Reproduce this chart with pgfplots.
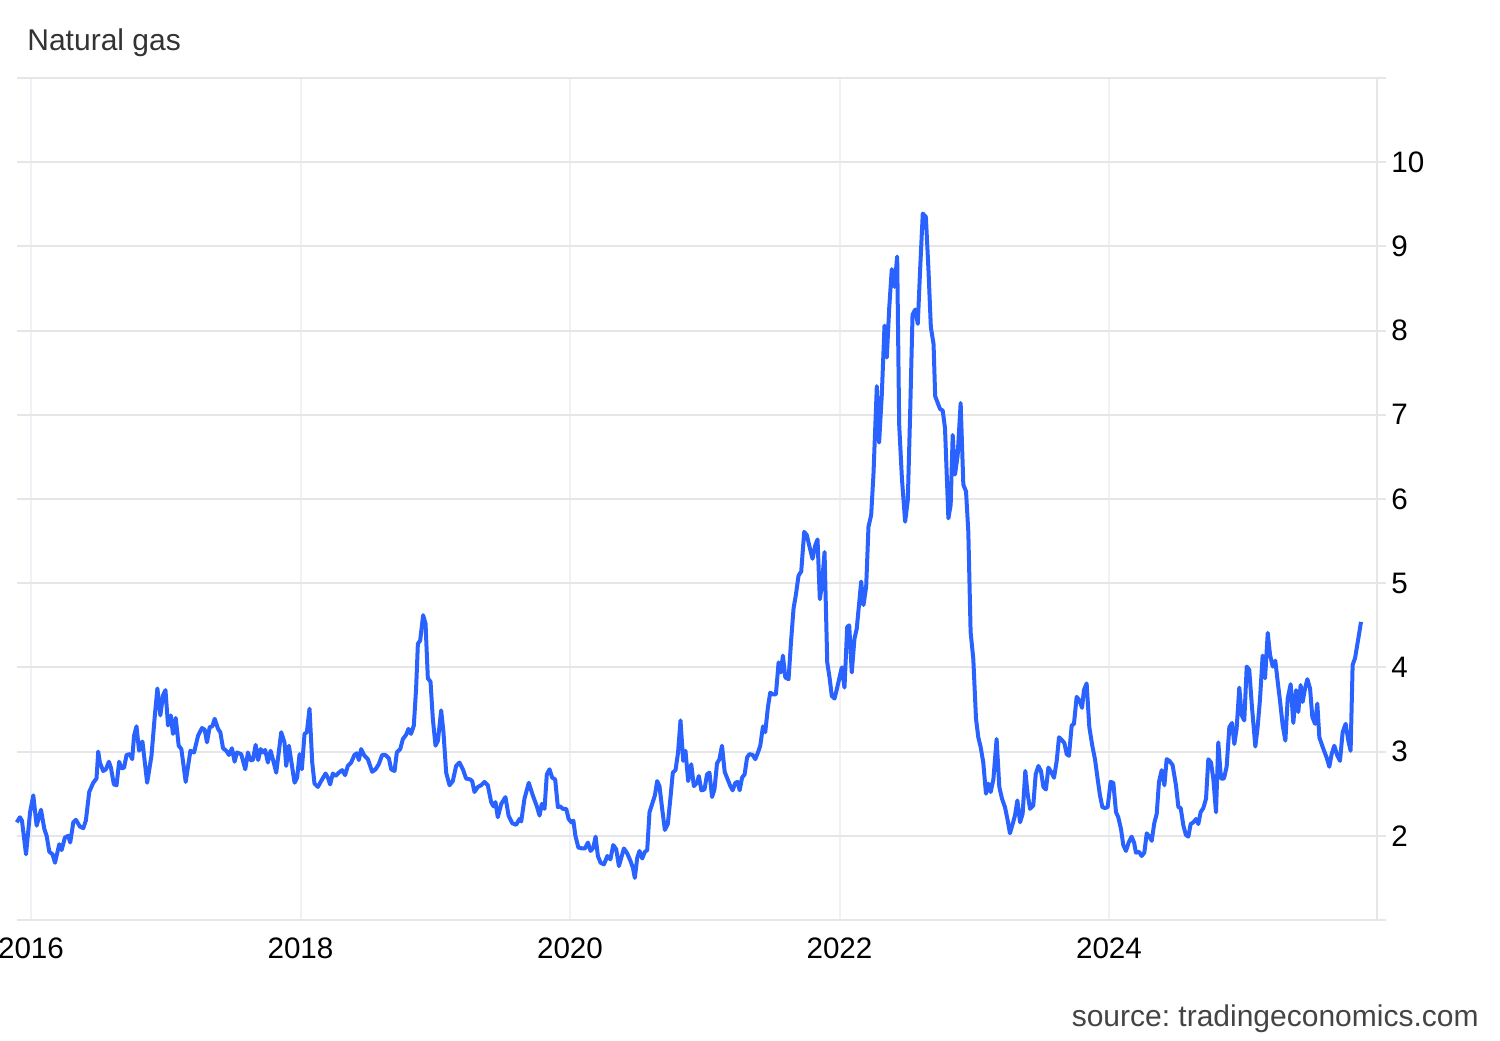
\documentclass[border=0pt]{standalone}
\usepackage{fontspec}
\setmainfont{Liberation Sans}
\usepackage{pgfplots}
\usepackage{pgfplotstable}
\pgfplotsset{compat=1.18}
\frenchspacing
\definecolor{lineblue}{HTML}{2962FF}
\definecolor{hgrid}{HTML}{E6E6E6}
\definecolor{vgrid}{HTML}{EEF2F6}
\definecolor{titlegrey}{HTML}{333333}
\definecolor{srcgrey}{HTML}{444444}
\pgfplotstableread{
x y
2015.894 2.16
2015.918 2.22
2015.933 2.18
2015.963 1.78
2015.993 2.28
2016.017 2.48
2016.042 2.12
2016.074 2.31
2016.099 2.08
2016.116 2.00
2016.136 1.81
2016.160 1.78
2016.178 1.68
2016.210 1.90
2016.227 1.83
2016.252 1.98
2016.277 2.00
2016.291 1.92
2016.314 2.16
2016.333 2.19
2016.363 2.11
2016.388 2.09
2016.407 2.18
2016.432 2.52
2016.462 2.63
2016.486 2.68
2016.499 3.00
2016.511 2.87
2016.536 2.77
2016.556 2.79
2016.578 2.88
2016.593 2.81
2016.615 2.61
2016.635 2.60
2016.654 2.88
2016.672 2.80
2016.691 2.81
2016.709 2.96
2016.733 2.97
2016.751 2.91
2016.765 3.19
2016.783 3.30
2016.802 3.01
2016.827 3.12
2016.862 2.63
2016.894 2.95
2016.919 3.43
2016.938 3.75
2016.960 3.43
2016.980 3.67
2016.998 3.73
2017.017 3.31
2017.037 3.43
2017.054 3.21
2017.074 3.40
2017.096 3.07
2017.116 3.03
2017.148 2.64
2017.183 3.01
2017.210 2.99
2017.240 3.19
2017.269 3.28
2017.289 3.26
2017.306 3.11
2017.326 3.29
2017.346 3.30
2017.363 3.39
2017.388 3.27
2017.405 3.23
2017.425 3.04
2017.449 3.01
2017.469 2.96
2017.491 3.04
2017.511 2.88
2017.528 2.99
2017.560 2.97
2017.590 2.79
2017.610 2.99
2017.627 2.90
2017.647 2.90
2017.667 3.08
2017.686 2.90
2017.704 3.03
2017.721 2.99
2017.738 3.02
2017.758 2.87
2017.778 3.01
2017.795 2.91
2017.820 2.75
2017.857 3.23
2017.881 3.11
2017.894 2.83
2017.914 3.07
2017.956 2.63
2017.975 2.69
2017.993 2.97
2018.010 2.79
2018.030 3.21
2018.047 3.23
2018.067 3.51
2018.087 2.87
2018.104 2.62
2018.129 2.58
2018.153 2.65
2018.186 2.74
2018.203 2.69
2018.220 2.61
2018.240 2.74
2018.260 2.71
2018.284 2.75
2018.309 2.78
2018.331 2.72
2018.351 2.83
2018.376 2.87
2018.400 2.96
2018.418 2.98
2018.433 2.90
2018.450 3.03
2018.475 2.95
2018.500 2.91
2018.532 2.76
2018.557 2.79
2018.581 2.85
2018.606 2.96
2018.630 2.96
2018.656 2.92
2018.673 2.79
2018.698 2.77
2018.715 2.99
2018.740 3.03
2018.760 3.15
2018.784 3.20
2018.801 3.27
2018.820 3.21
2018.841 3.31
2018.858 3.75
2018.871 4.28
2018.888 4.32
2018.910 4.62
2018.928 4.52
2018.945 3.87
2018.965 3.83
2018.982 3.39
2019.002 3.07
2019.020 3.13
2019.044 3.49
2019.061 3.23
2019.081 2.75
2019.106 2.60
2019.130 2.65
2019.155 2.83
2019.180 2.87
2019.205 2.79
2019.229 2.68
2019.259 2.67
2019.274 2.65
2019.291 2.52
2019.316 2.58
2019.340 2.60
2019.365 2.64
2019.390 2.60
2019.415 2.40
2019.432 2.35
2019.447 2.40
2019.464 2.22
2019.490 2.38
2019.521 2.46
2019.544 2.24
2019.571 2.15
2019.600 2.13
2019.625 2.20
2019.638 2.17
2019.662 2.44
2019.694 2.63
2019.724 2.48
2019.754 2.35
2019.774 2.24
2019.791 2.38
2019.811 2.32
2019.828 2.73
2019.848 2.79
2019.868 2.69
2019.890 2.67
2019.910 2.34
2019.927 2.35
2019.947 2.32
2019.972 2.32
2019.990 2.20
2020.010 2.16
2020.025 2.18
2020.040 2.00
2020.062 1.86
2020.091 1.85
2020.111 1.85
2020.133 1.92
2020.153 1.82
2020.173 1.86
2020.190 1.99
2020.207 1.76
2020.227 1.68
2020.252 1.66
2020.277 1.76
2020.300 1.72
2020.321 1.89
2020.343 1.84
2020.363 1.64
2020.400 1.85
2020.425 1.79
2020.449 1.70
2020.467 1.62
2020.481 1.50
2020.499 1.74
2020.516 1.82
2020.536 1.73
2020.556 1.81
2020.573 1.83
2020.590 2.28
2020.610 2.38
2020.630 2.48
2020.647 2.65
2020.664 2.59
2020.684 2.32
2020.704 2.07
2020.726 2.14
2020.746 2.46
2020.763 2.75
2020.783 2.78
2020.802 2.99
2020.820 3.37
2020.840 2.89
2020.857 3.01
2020.877 2.65
2020.900 2.85
2020.919 2.59
2020.943 2.63
2020.956 2.71
2020.975 2.54
2020.998 2.55
2021.017 2.73
2021.035 2.75
2021.054 2.46
2021.072 2.55
2021.091 2.86
2021.109 2.91
2021.128 3.07
2021.148 2.76
2021.165 2.69
2021.190 2.59
2021.207 2.54
2021.227 2.63
2021.244 2.64
2021.259 2.54
2021.277 2.69
2021.296 2.73
2021.314 2.93
2021.331 2.97
2021.356 2.96
2021.375 2.91
2021.395 2.99
2021.412 3.07
2021.432 3.30
2021.449 3.23
2021.469 3.53
2021.486 3.70
2021.506 3.68
2021.528 3.68
2021.548 4.06
2021.565 3.94
2021.580 4.14
2021.598 3.88
2021.622 3.86
2021.640 4.30
2021.659 4.70
2021.677 4.87
2021.696 5.09
2021.716 5.14
2021.738 5.61
2021.758 5.57
2021.775 5.45
2021.800 5.29
2021.820 5.45
2021.837 5.52
2021.854 4.81
2021.869 4.97
2021.889 5.37
2021.909 4.06
2021.926 3.88
2021.943 3.66
2021.963 3.63
2021.980 3.74
2022.000 3.88
2022.017 4.00
2022.037 3.76
2022.057 4.48
2022.072 4.50
2022.091 3.94
2022.111 4.34
2022.128 4.46
2022.161 5.02
2022.178 4.74
2022.198 4.96
2022.215 5.67
2022.235 5.81
2022.252 6.29
2022.277 7.34
2022.294 6.67
2022.314 7.24
2022.334 8.06
2022.351 7.68
2022.369 8.27
2022.388 8.73
2022.408 8.52
2022.428 8.88
2022.443 6.88
2022.463 6.25
2022.487 5.73
2022.507 5.99
2022.524 7.00
2022.542 8.19
2022.562 8.25
2022.581 8.08
2022.599 8.75
2022.618 9.39
2022.641 9.35
2022.660 8.73
2022.678 8.04
2022.698 7.84
2022.710 7.22
2022.746 7.07
2022.766 7.05
2022.783 6.84
2022.808 5.77
2022.825 5.93
2022.840 6.76
2022.857 6.29
2022.877 6.52
2022.899 7.14
2022.919 6.17
2022.939 6.09
2022.956 5.61
2022.973 4.42
2022.993 4.10
2023.013 3.39
2023.030 3.17
2023.048 3.05
2023.067 2.87
2023.087 2.50
2023.104 2.62
2023.122 2.52
2023.142 2.67
2023.166 3.15
2023.186 2.58
2023.206 2.44
2023.228 2.34
2023.246 2.20
2023.265 2.03
2023.285 2.14
2023.302 2.24
2023.320 2.42
2023.340 2.16
2023.359 2.26
2023.379 2.77
2023.396 2.50
2023.414 2.32
2023.438 2.36
2023.456 2.73
2023.476 2.83
2023.495 2.77
2023.513 2.58
2023.532 2.55
2023.550 2.81
2023.570 2.76
2023.592 2.69
2023.612 2.89
2023.629 3.17
2023.649 3.14
2023.669 3.10
2023.686 2.97
2023.703 2.95
2023.723 3.31
2023.740 3.33
2023.760 3.65
2023.780 3.61
2023.800 3.52
2023.814 3.73
2023.834 3.81
2023.854 3.29
2023.876 3.07
2023.896 2.91
2023.916 2.67
2023.933 2.48
2023.951 2.34
2023.970 2.33
2023.990 2.34
2024.012 2.64
2024.032 2.63
2024.052 2.28
2024.069 2.22
2024.089 2.08
2024.106 1.89
2024.126 1.82
2024.146 1.92
2024.168 1.99
2024.186 1.92
2024.200 1.80
2024.223 1.81
2024.242 1.76
2024.262 1.80
2024.280 2.03
2024.300 1.99
2024.317 1.94
2024.336 2.15
2024.354 2.26
2024.371 2.64
2024.391 2.78
2024.411 2.60
2024.428 2.91
2024.448 2.89
2024.472 2.84
2024.497 2.60
2024.515 2.34
2024.532 2.33
2024.552 2.12
2024.571 2.01
2024.589 1.99
2024.606 2.14
2024.626 2.16
2024.646 2.20
2024.663 2.14
2024.680 2.28
2024.700 2.33
2024.720 2.44
2024.737 2.91
2024.757 2.87
2024.774 2.68
2024.794 2.28
2024.811 3.11
2024.831 2.68
2024.853 2.68
2024.873 2.82
2024.893 3.29
2024.913 3.34
2024.930 3.09
2024.947 3.27
2024.967 3.76
2024.985 3.43
2025.004 3.37
2025.022 4.01
2025.041 3.97
2025.061 3.53
2025.086 3.06
2025.103 3.29
2025.121 3.63
2025.140 4.14
2025.158 3.87
2025.178 4.41
2025.195 4.15
2025.215 4.01
2025.234 4.08
2025.252 3.83
2025.270 3.59
2025.289 3.31
2025.309 3.13
2025.326 3.63
2025.348 3.80
2025.368 3.34
2025.388 3.73
2025.405 3.47
2025.422 3.79
2025.437 3.59
2025.455 3.75
2025.472 3.86
2025.492 3.75
2025.509 3.41
2025.529 3.33
2025.546 3.57
2025.561 3.17
2025.578 3.09
2025.596 3.01
2025.615 2.93
2025.635 2.82
2025.652 2.97
2025.672 3.07
2025.695 2.95
2025.714 2.89
2025.734 3.23
2025.756 3.33
2025.776 3.13
2025.793 3.01
2025.808 4.03
2025.826 4.11
2025.850 4.34
2025.870 4.54
}\gasdata
\begin{document}
\begin{tikzpicture}
\begin{axis}[
  at={(0pt,0pt)}, anchor=south west,
  scale only axis, width=680pt, height=421pt,
  xmin=2015.8961, xmax=2025.9889, ymin=1, ymax=11,
  clip=false,
  axis line style={draw=none},
  xtick={2016,2018,2020,2022,2024},
  xticklabels={2016,2018,2020,2022,2024},
  xtick style={draw=none},
  xmajorgrids, major x grid style={vgrid, line width=1pt},
  ytick={1,...,11},
  yticklabels={,2,3,4,5,6,7,8,9,10,},
  ymajorgrids, major y grid style={hgrid, line width=1pt},
  ytick pos=right, yticklabel pos=right,
  tick align=outside, major tick length=4.5pt,
  ytick style={hgrid, line width=1pt},
  tick label style={font=\fontsize{14.8}{16}\selectfont, text=black},
  yticklabel style={anchor=west, inner xsep=2.5pt},
  xticklabel style={anchor=north, yshift=-1pt},
  /pgf/number format/assume math mode=true,
]
\draw[hgrid, line width=1pt] (rel axis cs:1,0) -- (rel axis cs:1,1);
\addplot[lineblue, line width=2pt, line join=round, no marks] table[x=x, y=y] {\gasdata};
\end{axis}
\node[anchor=base west, inner sep=0pt, text=titlegrey, font=\fontsize{15}{17}\selectfont] at (5pt,434.5pt) {Natural gas};
\node[anchor=base east, inner sep=0pt, text=srcgrey, font=\fontsize{15}{17}\selectfont] at (731pt,-53pt) {source: tradingeconomics.com};
\pgfresetboundingbox
\path[use as bounding box] (-8.5pt,-60pt) rectangle (741.5pt,460pt);
\end{tikzpicture}
\end{document}
